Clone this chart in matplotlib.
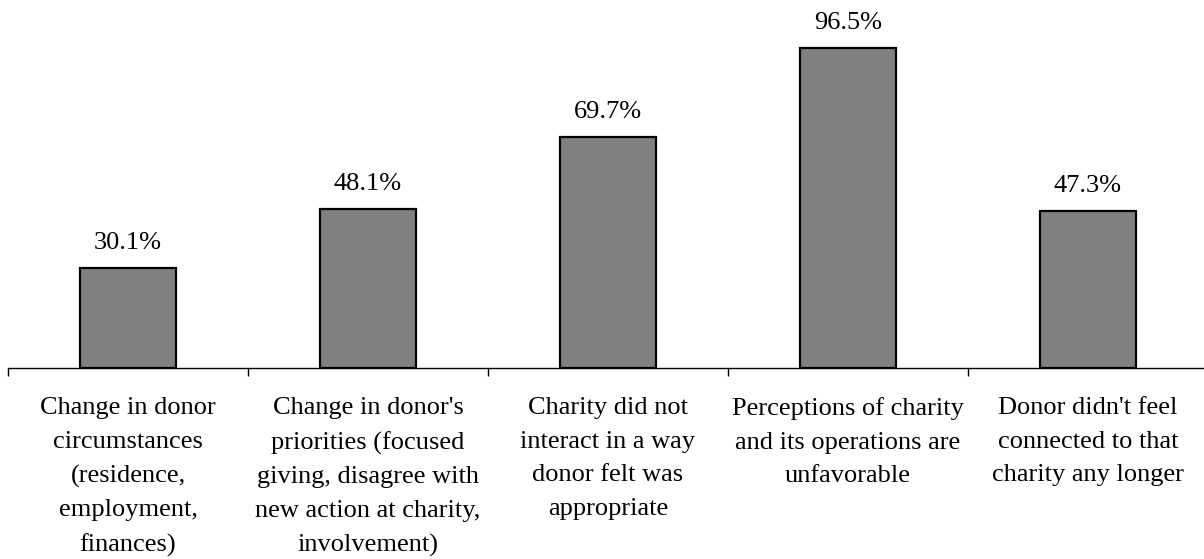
import numpy as np
import matplotlib.pyplot as plt

# reasons donors stopped giving
categories = [
    "Change in donor\ncircumstances\n(residence,\nemployment,\nfinances)",
    "Change in donor's\npriorities (focused\ngiving, disagree with\nnew action at charity,\ninvolvement)",
    "Charity did not\ninteract in a way\ndonor felt was\nappropriate",
    "Perceptions of charity\nand its operations are\nunfavorable",
    "Donor didn't feel\nconnected to that\ncharity any longer",
]
values = [30.1, 48.1, 69.7, 96.5, 47.3]

plt.rcParams['font.family'] = ['Liberation Serif', 'DejaVu Serif']

fig = plt.figure(figsize=(12.04, 5.59), dpi=100)
ax = fig.add_axes([8 / 1204, 1 - 368 / 559, 1200 / 1204, 368 / 559])

x = np.arange(len(values))
bars = ax.bar(x, values, width=0.4, color='#808080', edgecolor='black', linewidth=1.6)

for b, v in zip(bars, values):
    ax.annotate("%.1f%%" % v, (b.get_x() + b.get_width() / 2, v),
                xytext=(0, 10), textcoords='offset points',
                ha='center', va='bottom', fontsize=19)

ax.set_xlim(-0.5, 4.5)
ax.set_ylim(0, 111)

for s in ['top', 'right', 'left']:
    ax.spines[s].set_visible(False)
ax.spines['bottom'].set_linewidth(1.0)
ax.set_yticks([])

ax.set_xticks(x)
ax.set_xticklabels(categories, fontsize=19, linespacing=1.68)
ax.tick_params(axis='x', which='major', length=0, pad=21)
ax.set_xticks(np.arange(-0.5, 5, 1), minor=True)
ax.tick_params(axis='x', which='minor', length=6, width=1.0, direction='out')

fig.savefig('out.png', dpi=100)
